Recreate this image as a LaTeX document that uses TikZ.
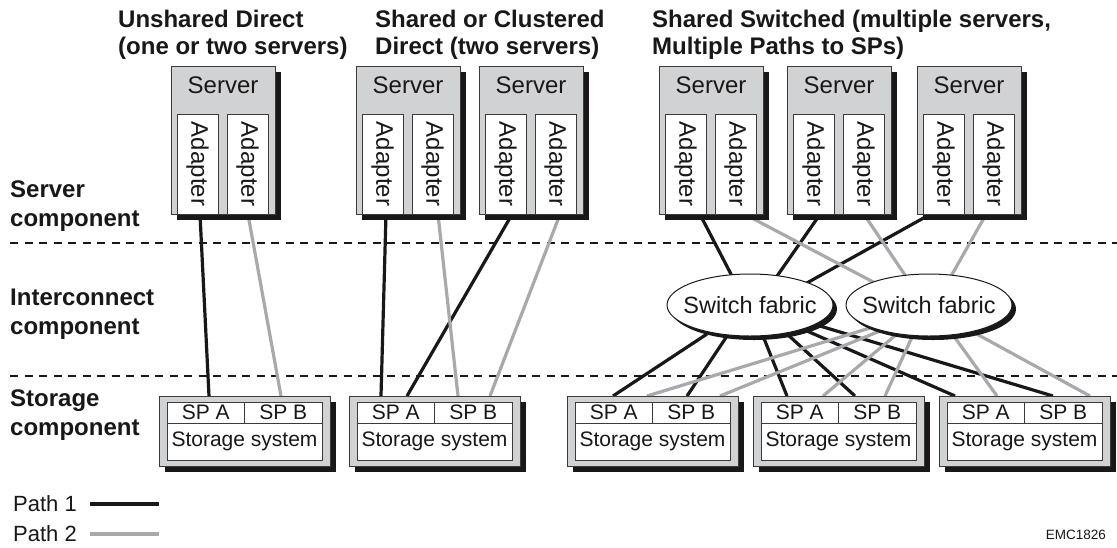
\documentclass[tikz,border=0pt]{standalone}
\usepackage{fontspec}
\setmainfont{Liberation Sans}
\usetikzlibrary{calc,shapes.geometric}
\definecolor{boxgray}{HTML}{D1D2D4}
\definecolor{pathgray}{HTML}{A7A9AC}
\definecolor{inkblack}{HTML}{1A1718}
\pgfdeclarelayer{back}
\pgfdeclarelayer{bg}
\pgfsetlayers{back,bg,main}
\tikzset{
  pathone/.style={draw=inkblack, line width=3.2pt},
  pathtwo/.style={draw=pathgray, line width=3.2pt},
  divider/.style={draw=inkblack, line width=1.3pt, dash pattern=on 8pt off 6.5pt},
  titletext/.style={anchor=north west, align=left, inner sep=0pt, text=inkblack, font=\bfseries\fontsize{24}{27}\selectfont},
  layertext/.style={anchor=west, align=left, inner sep=0pt, text=inkblack, font=\bfseries\fontsize{24}{29}\selectfont},
  serverbox/.style={draw=inkblack!85, line width=0.8pt, fill=boxgray, minimum width=104pt, minimum height=148pt, inner sep=0pt, anchor=north west},
  adapterbox/.style={draw=inkblack!85, line width=0.8pt, fill=white, minimum width=41pt, minimum height=100pt, inner sep=0pt},
  boxtext/.style={inner sep=0pt, text=inkblack, font=\fontsize{24}{28}\selectfont},
  adaptertext/.style={boxtext, rotate=-90},
  storebox/.style={draw=inkblack!85, line width=0.8pt, fill=boxgray, minimum width=171pt, minimum height=70pt, inner sep=0pt, anchor=north west},
  cell/.style={draw=inkblack!85, line width=0.8pt, fill=white, inner sep=0pt, text=inkblack, font=\fontsize{21}{25}\selectfont},
  fabric/.style={ellipse, draw=inkblack, line width=1pt, fill=white, minimum width=166pt, minimum height=62pt, inner sep=0pt},
  fabricshadow/.style={ellipse, fill=inkblack, minimum width=166pt, minimum height=62pt, inner sep=0pt},
  legendtext/.style={anchor=west, inner sep=0pt, text=inkblack, font=\fontsize{22}{26}\selectfont},
}
\newcommand\serverunit[3]{%
  \fill[inkblack] (#2+5.5,#3+5.5) rectangle (#2+109.5,#3+153.5);
  \node[serverbox] (#1) at (#2,#3) {};
  \node[boxtext] (#1t) at (#2+52,#3+19) {Server};
  \node[adapterbox] (#1a) at (#2+26.5,#3+98) {};
  \node[adaptertext] (#1at) at (#1a.center) {Adapter};
  \node[adapterbox] (#1b) at (#2+76.5,#3+98) {};
  \node[adaptertext] (#1bt) at (#1b.center) {Adapter};
}
\newcommand\storageunit[3]{%
  \fill[inkblack] (#2+5.5,#3+5.5) rectangle (#2+176.5,#3+75.5);
  \node[storebox] (#1) at (#2,#3) {};
  \node[cell, minimum width=77.5pt, minimum height=21pt] (#1a) at (#2+46.75,#3+16.5) {SP A};
  \node[cell, minimum width=77.5pt, minimum height=21pt] (#1b) at (#2+124.25,#3+16.5) {SP B};
  \node[cell, minimum width=155pt, minimum height=37pt] (#1s) at (#2+85.5,#3+45.5) {Storage system};
}
\begin{document}
\begin{tikzpicture}[x=1pt,y=-1pt]
\useasboundingbox (0,0) rectangle (1117,547);
\begin{pgfonlayer}{back}
\fill[white] (0,0) rectangle (1117,547);
\end{pgfonlayer}

% titles
\node[titletext] (t1) at (118,10) {Unshared Direct\\(one or two servers)};
\node[titletext] (t2) at (375,10) {Shared or Clustered\\Direct (two servers)};
\node[titletext] (t3) at (652,10) {Shared Switched (multiple servers,\\Multiple Paths to SPs)};

% layer labels
\node[layertext] (l1) at (10,206) {Server\\component};
\node[layertext] (l2) at (10,314) {Interconnect\\component};
\node[layertext] (l3) at (10,415) {Storage\\component};

% servers
\serverunit{sa}{171}{66}
\serverunit{sb}{356}{66}
\serverunit{sc}{479}{66}
\serverunit{sd}{659}{66}
\serverunit{se}{787}{66}
\serverunit{sf}{917}{66}

% storage systems
\storageunit{ua}{159}{396}
\storageunit{ub}{349}{396}
\storageunit{uc}{567}{396}
\storageunit{ud}{753}{396}
\storageunit{ue}{939}{396}

% switch fabrics
\node[fabricshadow] (f1s) at (754,309) {};
\node[fabric] (f1) at (750,305) {};
\node[boxtext, font=\fontsize{23.5}{28}\selectfont] (f1t) at (f1.center) {Switch fabric};
\node[fabricshadow] (f2s) at (933,309) {};
\node[fabric] (f2) at (929,305) {};
\node[boxtext, font=\fontsize{23.5}{28}\selectfont] (f2t) at (f2.center) {Switch fabric};

% legend
\node[legendtext] (p1) at (13,504) {Path 1};
\node[legendtext] (p2) at (13,534) {Path 2};
\coordinate (p1e) at (159,504);
\coordinate (p2e) at (159,534);
\draw[pathone] ($(p1.east)+(13,0)$) -- (p1e);
\draw[pathtwo] ($(p2.east)+(13,0)$) -- (p2e);
\node[anchor=east, inner sep=0pt, text=inkblack, font=\fontsize{13.5}{16}\selectfont] (emc) at (1106,535) {EMC1826};

\begin{pgfonlayer}{bg}
  \coordinate (d1a) at (10,243); \coordinate (d1b) at (1117,243);
  \coordinate (d2a) at (10,376); \coordinate (d2b) at (1117,376);
  \draw[divider] (d1a) -- (d1b);
  \draw[divider] (d2a) -- (d2b);
  % unshared direct
  \draw[pathone] ($(saa.south)+(2.5,0)$) -- ($(ua.north west)+(50,0)$);
  \draw[pathtwo] ($(sab.south)+(0.5,0)$) -- ($(ua.north west)+(122,0)$);
  % shared direct
  \draw[pathone] ($(sba.south)+(3.5,0)$) -- ($(ub.north west)+(32,0)$);
  \draw[pathone] ($(sca.south)+(6.5,0)$) -- ($(ub.north west)+(58,0)$);
  \draw[pathtwo] ($(sbb.south)+(5.5,0)$) -- ($(ub.north west)+(109,0)$);
  \draw[pathtwo] ($(scb.south)+(4.5,0)$) -- ($(ub.north west)+(141,0)$);
  % servers to fabrics
  \draw[pathone] ($(sda.south)+(14.5,0)$) -- ($(f1.center)+(-17,-27)$);
  \draw[pathone] ($(sea.south)+(6.5,0)$) -- ($(f1.center)+(25,-26)$);
  \draw[pathone] ($(sfa.south)+(-13.5,0)$) -- ($(f1.center)+(55,-21)$);
  \draw[pathtwo] ($(sdb.south)+(9.5,0)$) -- ($(f2.center)+(-52,-21)$);
  \draw[pathtwo] ($(seb.south)+(0.5,0)$) -- ($(f2.center)+(-22,-27)$);
  \draw[pathtwo] ($(sfb.south)+(-7.5,0)$) -- ($(f2.center)+(21,-27)$);
  % fabrics to storage
  \draw[pathone] ($(f1.center)+(-43,29)$) -- ($(uc.north west)+(46,0)$);
  \draw[pathone] ($(f1.center)+(-23,31)$) -- ($(uc.north west)+(120,0)$);
  \draw[pathone] ($(f1.center)+(13,31)$) -- ($(ud.north west)+(34,0)$);
  \draw[pathone] ($(f1.center)+(37,29)$) -- ($(ud.north west)+(102,0)$);
  \draw[pathone] ($(f1.center)+(57,26)$) -- ($(ue.north west)+(16,0)$);
  \draw[pathone] ($(f1.center)+(70,21)$) -- ($(ue.north west)+(114,0)$);
  \draw[pathtwo] ($(f2.center)+(-59,23)$) -- ($(uc.north west)+(80,0)$);
  \draw[pathtwo] ($(f2.center)+(-49,26)$) -- ($(uc.north west)+(153,0)$);
  \draw[pathtwo] ($(f2.center)+(-32,29)$) -- ($(ud.north west)+(70,0)$);
  \draw[pathtwo] ($(f2.center)+(-16,30)$) -- ($(ud.north west)+(132,0)$);
  \draw[pathtwo] ($(f2.center)+(24,30)$) -- ($(ue.north west)+(58,0)$);
  \draw[pathtwo] ($(f2.center)+(44,27)$) -- ($(ue.north west)+(151,0)$);
\end{pgfonlayer}
\end{tikzpicture}
\end{document}
